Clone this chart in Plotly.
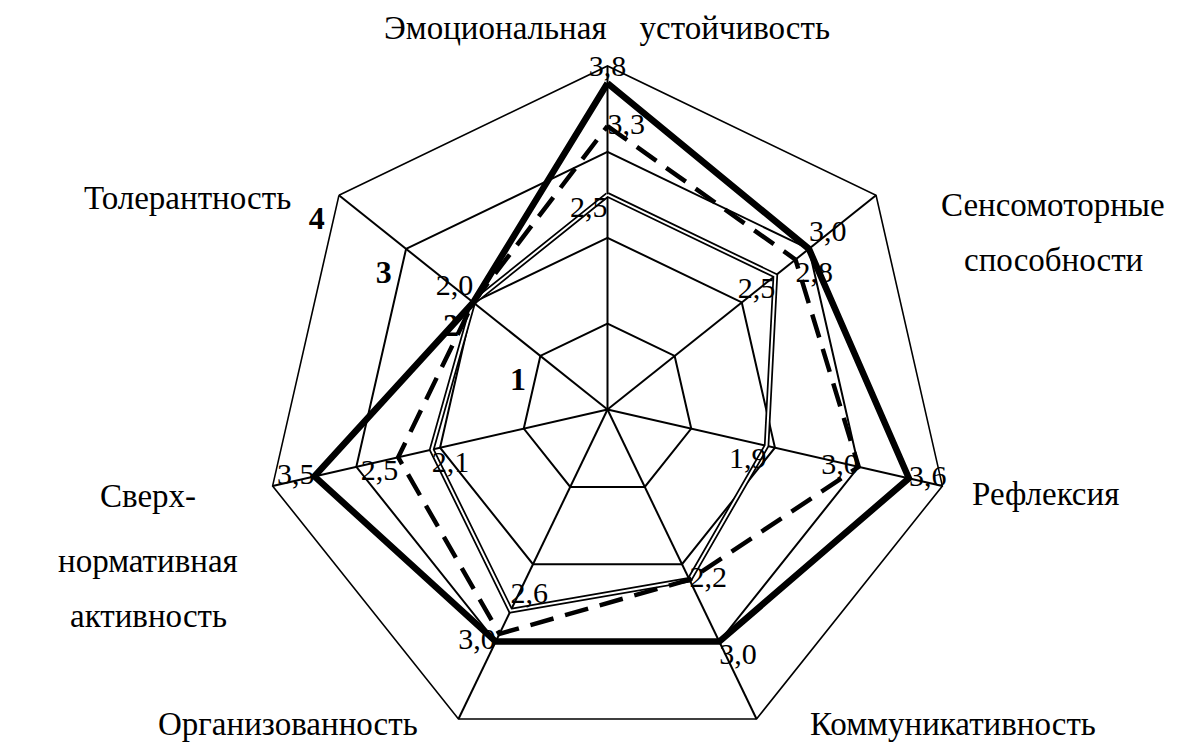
import plotly.graph_objects as go

categories = ["Эмоциональная устойчивость", "Сенсомоторные способности", "Рефлексия",
              "Коммуникативность", "Организованность", "Сверхнормативная активность",
              "Толерантность"]
thick_vals = [3.8, 3.0, 3.6, 3.0, 3.0, 3.5, 2.0]
dashed_vals = [3.3, 2.8, 3.0, 2.2, 2.9, 2.5, 2.0]
double_vals = [2.5, 2.5, 1.9, 2.2, 2.6, 2.1, 2.0]
radial_ticks = [1, 2, 3, 4]

# which points carry a value label in the picture
thick_show = [1, 1, 1, 1, 1, 1, 1]
dashed_show = [1, 1, 1, 1, 0, 1, 0]
double_show = [1, 1, 1, 0, 1, 1, 0]

W, H = 1199, 745
TOP = 58
SERIF = "Liberation Serif, Times New Roman, serif"
AXIS_ANGLE = 90 + 360 / 7   # radial axis drawn along "Толерантность"


def closed(vals):
    return list(vals) + [vals[0]]


def labels(vals, show):
    out = [f"{v:.1f}".replace(".", ",") if s else "" for v, s in zip(vals, show)]
    return out + [""]


theta = closed(categories)
text_font = dict(family=SERIF, size=30, color="black")

fig = go.Figure()

# double line: black stroke with a white core
fig.add_trace(go.Scatterpolar(
    r=closed(double_vals), theta=theta, mode="lines",
    line=dict(color="black", width=5.5), hoverinfo="skip",
))
fig.add_trace(go.Scatterpolar(
    r=closed(double_vals), theta=theta, mode="lines+text",
    line=dict(color="white", width=2),
    text=labels(double_vals, double_show), textfont=text_font,
    textposition=["bottom left", "bottom left", "bottom left", "middle right",
                  "top right", "bottom right", "middle left", "middle left"],
))
fig.add_trace(go.Scatterpolar(
    r=closed(dashed_vals), theta=theta, mode="lines+text",
    line=dict(color="black", width=4.5, dash="24px,12px"),
    text=labels(dashed_vals, dashed_show), textfont=text_font,
    textposition=["middle right", "bottom right", "middle left", "middle right",
                  "middle left", "bottom left", "middle left", "middle left"],
))
fig.add_trace(go.Scatterpolar(
    r=closed(thick_vals), theta=theta, mode="lines+text",
    line=dict(color="black", width=6.5),
    text=labels(thick_vals, thick_show), textfont=text_font,
    textposition=["top center", "top right", "middle right", "bottom right",
                  "middle left", "middle left", "top left", "middle left"],
))


def px(x, y):
    return x / W, 1 - y / H


cat_font = dict(family=SERIF, size=33, color="black")
label_lines = [
    ("Эмоциональная\u2003устойчивость", 599, 20, "center"),
    ("Сенсомоторные", 1045, 197, "center"),
    ("способности", 1045, 252, "center"),
    ("Рефлексия", 962, 486, "left"),
    ("Коммуникативность", 800, 716, "left"),
    ("Организованность", 412, 716, "right"),
    ("Сверх-", 140, 488, "center"),
    ("нормативная", 140, 553, "center"),
    ("активность", 140, 608, "center"),
    ("Толерантность", 285, 190, "right"),
]
annotations = []
for txt, x, y, anchor in label_lines:
    ax, ay = px(x, y)
    annotations.append(dict(text=txt, x=ax, y=ay, xref="paper", yref="paper",
                            xanchor=anchor, yanchor="middle", showarrow=False,
                            font=cat_font))

fig.update_layout(
    width=W, height=H,
    margin=dict(l=0, r=0, t=0, b=0),
    paper_bgcolor="white",
    showlegend=False,
    annotations=annotations,
    polar=dict(
        domain=dict(x=[0, 1], y=[0, 1 - TOP / H]),
        bgcolor="white",
        gridshape="linear",
        angularaxis=dict(
            rotation=90, direction="clockwise",
            showticklabels=False, ticks="",
            showgrid=True, gridcolor="black", gridwidth=1.6,
            showline=True, linecolor="black", linewidth=1.6,
        ),
        radialaxis=dict(
            range=[0, 4], tickvals=radial_ticks,
            angle=AXIS_ANGLE, side="counterclockwise", tickangle=AXIS_ANGLE,
            showline=False, ticks="",
            showgrid=True, gridcolor="black", gridwidth=1.6,
            tickfont=dict(family=SERIF, size=32, color="black", weight="bold"),
        ),
    ),
)

fig.write_html("out.html")
